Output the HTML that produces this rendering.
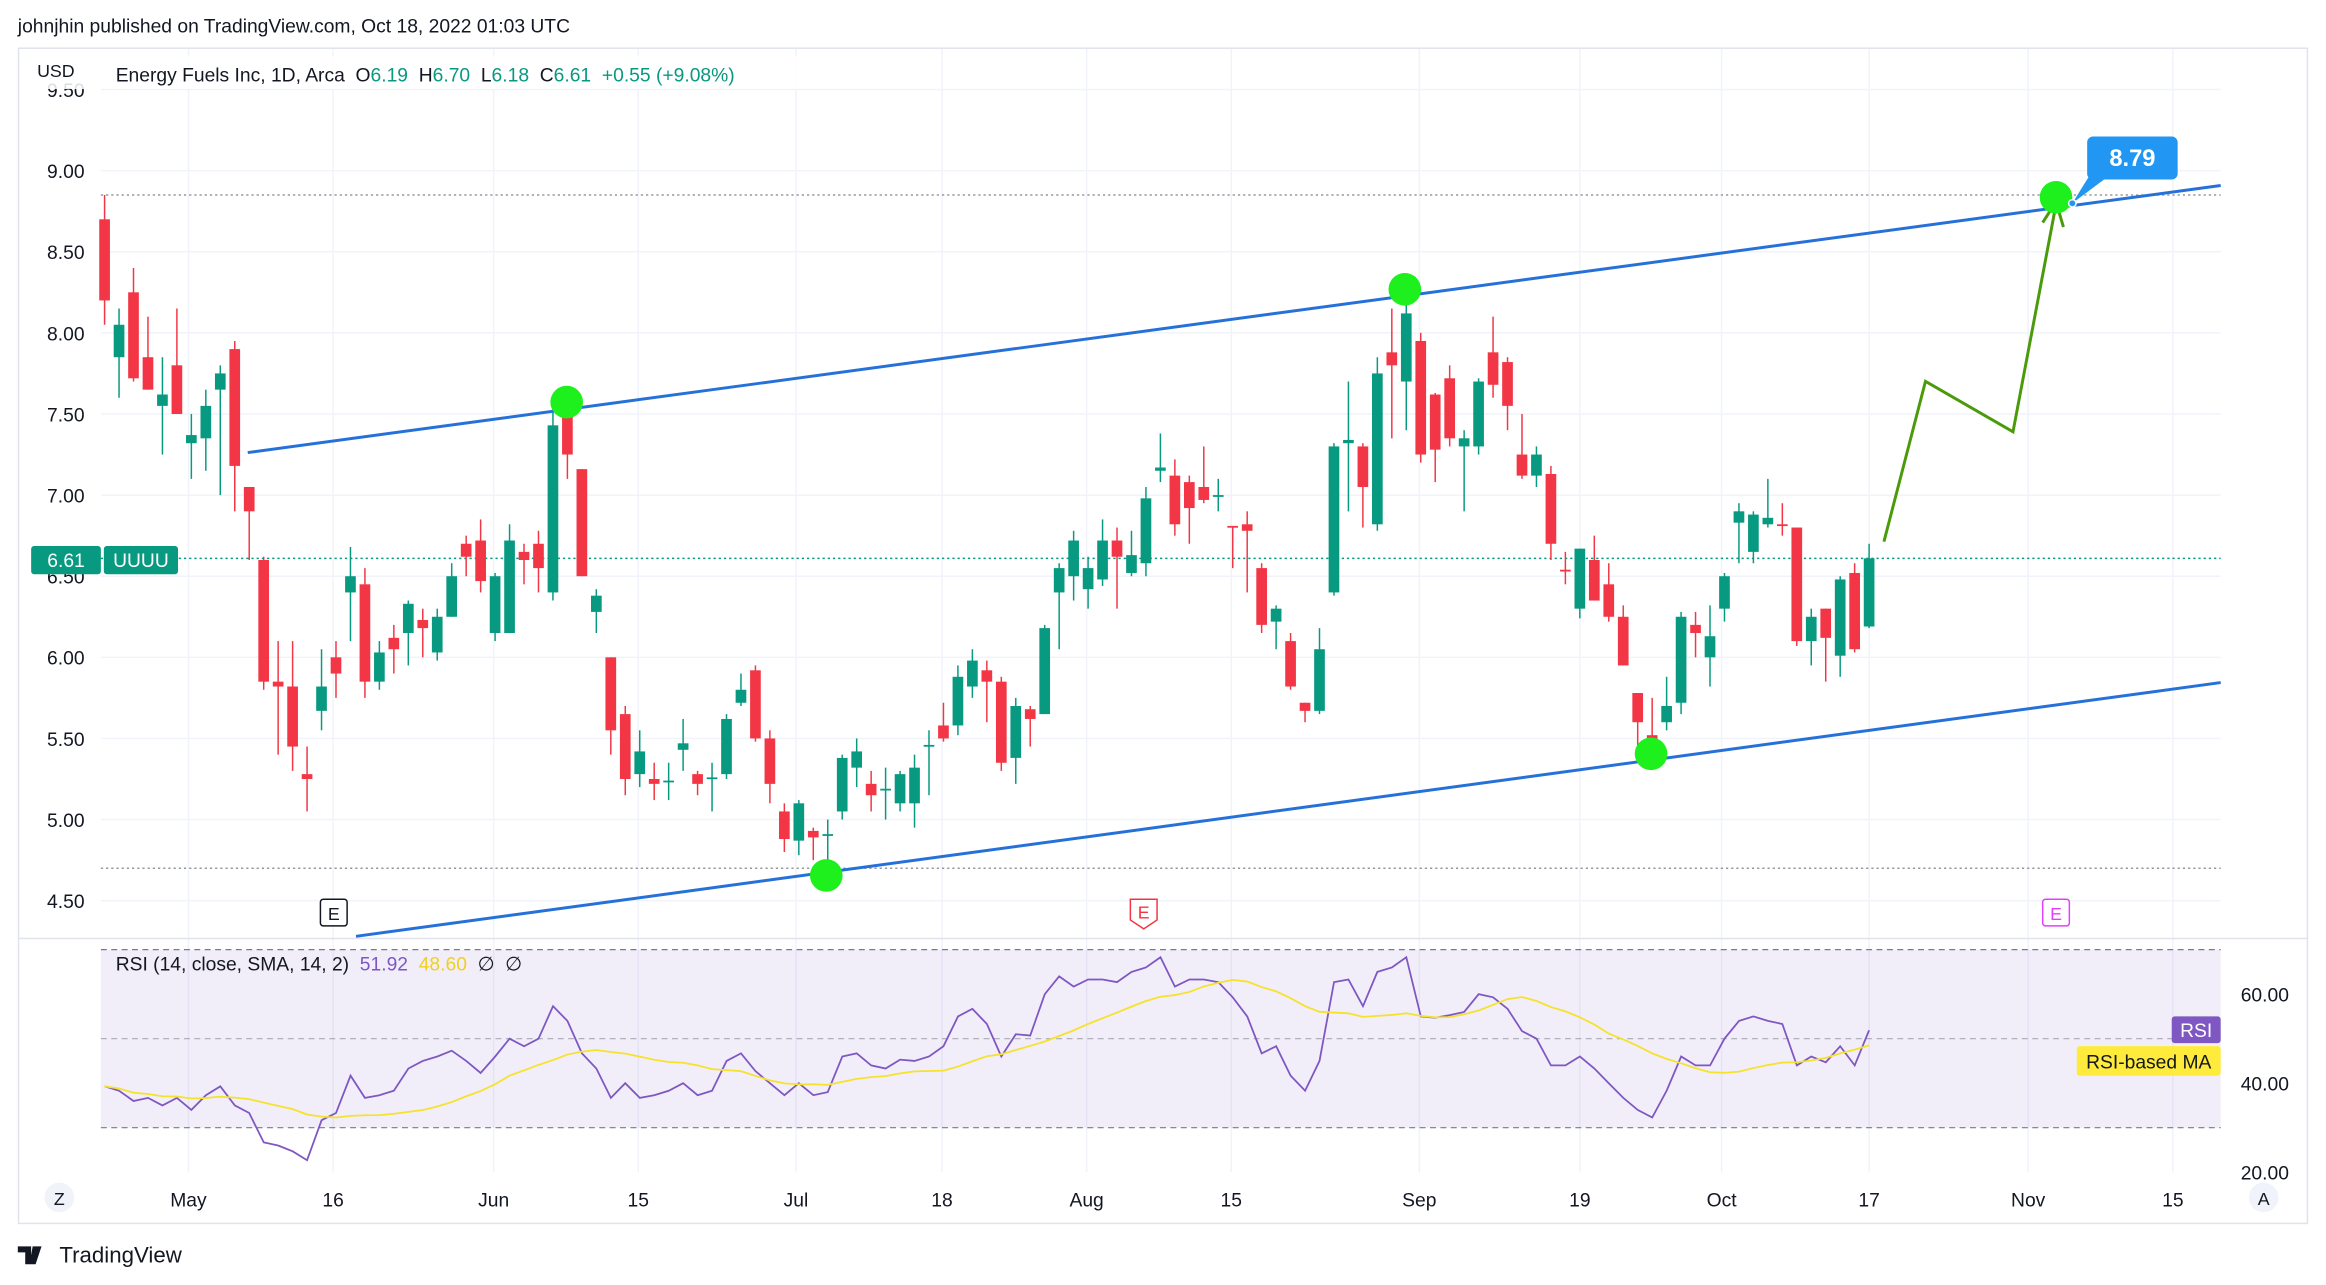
<!DOCTYPE html>
<html><head><meta charset="utf-8">
<style>
html,body{margin:0;padding:0;background:#fff;}
svg{display:block;font-family:"Liberation Sans",sans-serif;}
</style></head>
<body>
<svg id="chart" width="2326" height="1285" viewBox="0 0 1568 866" preserveAspectRatio="none" xmlns="http://www.w3.org/2000/svg">
  <rect x="0" y="0" width="1568" height="866" fill="#fff"/>
  <text x="12" y="22" font-size="13" fill="#131722">johnjhin published on TradingView.com, Oct 18, 2022 01:03 UTC</text>
  <rect x="12.5" y="32.5" width="1543" height="792" fill="none" stroke="#e0e3eb"/>
  <g id="grid"></g>
  <rect x="68" y="640" width="1429" height="120" fill="#7e57c2" fill-opacity="0.1"/>
  <line x1="68" y1="640" x2="1497" y2="640" stroke="#787b86" stroke-dasharray="4,3" stroke-width="0.8"/>
  <line x1="68" y1="700" x2="1497" y2="700" stroke="#787b86" stroke-dasharray="4,3" stroke-width="0.8" stroke-opacity="0.6"/>
  <line x1="68" y1="760" x2="1497" y2="760" stroke="#787b86" stroke-dasharray="4,3" stroke-width="0.8"/>
  <line x1="13" y1="632.5" x2="1556" y2="632.5" stroke="#e0e3eb"/>
  <g id="lines"></g>
  <g id="candles"></g>
  <g id="drawings">
    <line x1="167" y1="305" x2="1497" y2="125" stroke="#2671d9" stroke-width="2"/>
    <line x1="240" y1="631" x2="1497" y2="460" stroke="#2671d9" stroke-width="2"/>
    <polyline points="1270,365 1298,257 1357,291 1385,143" fill="none" stroke="#4a9a0a" stroke-width="2"/>
    <polyline points="1377,150 1386,136 1391,153" fill="none" stroke="#4a9a0a" stroke-width="2"/>
    <circle cx="382" cy="271" r="11" fill="#1df01d"/>
    <circle cx="947" cy="195" r="11" fill="#1df01d"/>
    <circle cx="557" cy="590" r="11" fill="#1df01d"/>
    <circle cx="1113" cy="508" r="11" fill="#1df01d"/>
    <circle cx="1386" cy="133" r="11" fill="#1df01d"/>
    <polygon points="1410,116 1425,116 1397,137" fill="#2196f3"/>
    <circle cx="1397" cy="137" r="2.5" fill="#2196f3" stroke="#fff"/>
    <rect x="1407" y="92" width="61" height="29" rx="4" fill="#2196f3"/>
    <text x="1437.5" y="112" font-size="16" font-weight="bold" fill="#fff" text-anchor="middle">8.79</text>
  </g>
  <g id="yaxis"></g>
  <g>
    <rect x="21" y="368" width="47" height="19" rx="2" fill="#089981"/>
    <text x="44.5" y="382" font-size="13" fill="#fff" text-anchor="middle">6.61</text>
    <rect x="70" y="368" width="50" height="19" rx="2" fill="#089981"/>
    <text x="95" y="382" font-size="13" fill="#fff" text-anchor="middle">UUUU</text>
  </g>
  <rect x="18" y="38" width="520" height="22" fill="#fff" fill-opacity="0.85"/>
  <text x="25" y="52" font-size="12" fill="#131722">USD</text>
  <text x="78" y="55" font-size="13" fill="#131722" xml:space="preserve">Energy Fuels Inc, 1D, Arca  O<tspan fill="#089981">6.19</tspan>  H<tspan fill="#089981">6.70</tspan>  L<tspan fill="#089981">6.18</tspan>  C<tspan fill="#089981">6.61</tspan>  <tspan fill="#089981">+0.55 (+9.08%)</tspan></text>
  <text x="78" y="654" font-size="13" fill="#131722" xml:space="preserve">RSI (14, close, SMA, 14, 2)  <tspan fill="#7e57c2">51.92</tspan>  <tspan fill="#f0d020">48.60</tspan>  ∅  ∅</text>
  <g>
    <rect x="216" y="606" width="18" height="18" rx="2" fill="#fff" stroke="#131722"/>
    <text x="225" y="620" font-size="12" fill="#131722" text-anchor="middle">E</text>
  </g>
  <g>
    <path d="M762,606 H780 V620 L771,626 L762,620 Z" fill="#fff" stroke="#f23645"/>
    <text x="771" y="619" font-size="12" fill="#f23645" text-anchor="middle">E</text>
  </g>
  <g>
    <rect x="1377" y="606" width="18" height="18" rx="2" fill="#fff" stroke="#e040fb"/>
    <text x="1386" y="620" font-size="12" fill="#e040fb" text-anchor="middle">E</text>
  </g>
  <g>
    <text x="1543" y="675" font-size="13" fill="#131722" text-anchor="end">60.00</text>
    <text x="1543" y="735" font-size="13" fill="#131722" text-anchor="end">40.00</text>
    <text x="1543" y="795" font-size="13" fill="#131722" text-anchor="end">20.00</text>
  </g>
  <g>
    <rect x="1464" y="685" width="33" height="18" rx="2" fill="#7e57c2"/>
    <text x="1480.5" y="699" font-size="13" fill="#fff" text-anchor="middle">RSI</text>
  </g>
  <g>
    <rect x="1400" y="705" width="97" height="20" rx="2" fill="#ffeb3b"/>
    <text x="1448.5" y="720" font-size="13" fill="#131722" text-anchor="middle">RSI-based MA</text>
  </g>
  <g id="xaxis"></g>
  <g>
    <circle cx="40" cy="807" r="10" fill="#f0f3fa"/>
    <text x="40" y="812" font-size="12" fill="#131722" text-anchor="middle">Z</text>
  </g>
  <g>
    <circle cx="1526" cy="807" r="10" fill="#f0f3fa"/>
    <text x="1526" y="812" font-size="12" fill="#131722" text-anchor="middle">A</text>
  </g>
  <g>
    <path d="M12,840 H21 V852 H17 V844 H12 Z M22,840 H28 L24,852 H20 Z" fill="#131722"/>
    <circle cx="25" cy="842" r="0" fill="#131722"/>
    <text x="40" y="851" font-size="15" fill="#131722">TradingView</text>
  </g>
</svg>
<script>
const opens  = [8.70,7.85,8.25,7.85,7.55,7.80,7.32,7.35,7.65,7.90,7.05,6.60,5.85,5.82,5.28,5.67,6.00,6.40,6.45,5.85,6.12,6.15,6.23,6.03,6.25,6.70,6.72,6.15,6.15,6.65,6.70,6.40,7.57,7.16,6.28,6.00,5.65,5.28,5.25,5.23,5.43,5.28,5.25,5.28,5.72,5.92,5.50,5.05,4.87,4.93,4.90,5.05,5.32,5.22,5.18,5.10,5.10,5.45,5.58,5.58,5.82,5.92,5.85,5.38,5.68,5.65,6.40,6.50,6.42,6.48,6.72,6.52,6.58,7.15,7.12,7.08,7.05,6.99,6.81,6.82,6.55,6.22,6.10,5.72,5.67,6.40,7.32,7.30,6.82,7.88,7.70,7.95,7.62,7.72,7.30,7.30,7.88,7.82,7.25,7.12,7.13,6.54,6.30,6.60,6.45,6.25,5.78,5.52,5.60,5.72,6.20,6.00,6.30,6.83,6.65,6.82,6.82,6.80,6.10,6.30,6.01,6.52,6.19];
const highs  = [8.85,8.15,8.40,8.10,7.85,8.15,7.50,7.65,7.80,7.95,7.05,6.62,6.10,6.10,5.45,6.05,6.10,6.68,6.55,6.10,6.20,6.35,6.30,6.30,6.58,6.75,6.85,6.52,6.82,6.70,6.78,7.55,7.60,7.16,6.42,6.00,5.70,5.55,5.35,5.35,5.62,5.30,5.35,5.65,5.90,5.95,5.55,5.10,5.12,4.95,5.00,5.40,5.50,5.30,5.32,5.30,5.40,5.55,5.72,5.95,6.05,5.98,5.88,5.75,5.70,6.20,6.58,6.78,6.62,6.85,6.80,6.78,7.05,7.38,7.22,7.12,7.30,7.10,6.81,6.90,6.58,6.32,6.15,5.72,6.18,7.32,7.70,7.32,7.85,8.15,8.25,8.00,7.63,7.80,7.40,7.72,8.10,7.85,7.50,7.30,7.18,6.65,6.67,6.75,6.58,6.32,5.78,5.75,5.88,6.28,6.28,6.32,6.52,6.95,6.90,7.10,6.95,6.80,6.30,6.30,6.50,6.58,6.70];
const lows   = [8.05,7.60,7.70,7.65,7.25,7.50,7.10,7.15,7.00,6.90,6.60,5.80,5.40,5.30,5.05,5.55,5.75,6.10,5.75,5.80,5.90,5.95,6.00,5.98,6.25,6.50,6.40,6.10,6.15,6.45,6.40,6.35,7.10,6.50,6.15,5.40,5.15,5.20,5.12,5.12,5.30,5.15,5.05,5.25,5.70,5.48,5.10,4.80,4.78,4.75,4.72,5.00,5.20,5.05,5.00,5.05,4.95,5.15,5.48,5.52,5.75,5.60,5.30,5.22,5.45,5.65,6.05,6.35,6.30,6.44,6.30,6.50,6.50,7.08,6.75,6.70,6.95,6.90,6.55,6.40,6.15,6.05,5.80,5.60,5.65,6.38,6.90,6.80,6.78,7.35,7.40,7.20,7.08,7.30,6.90,7.25,7.60,7.40,7.10,7.05,6.60,6.45,6.24,6.35,6.22,5.95,5.45,5.38,5.55,5.65,6.00,5.82,6.22,6.58,6.58,6.80,6.75,6.07,5.95,5.85,5.88,6.03,6.18];
const closes = [8.20,8.05,7.72,7.65,7.62,7.50,7.37,7.55,7.75,7.18,6.90,5.85,5.82,5.45,5.25,5.82,5.90,6.50,5.85,6.03,6.05,6.33,6.18,6.25,6.50,6.62,6.47,6.50,6.72,6.60,6.55,7.43,7.25,6.50,6.38,5.55,5.25,5.42,5.22,5.24,5.47,5.22,5.26,5.62,5.80,5.50,5.22,4.88,5.10,4.89,4.91,5.38,5.42,5.15,5.19,5.28,5.32,5.46,5.50,5.88,5.98,5.85,5.35,5.70,5.62,6.18,6.55,6.72,6.55,6.72,6.62,6.63,6.98,7.17,6.82,6.92,6.97,7.00,6.80,6.78,6.20,6.30,5.82,5.67,6.05,7.30,7.34,7.05,7.75,7.80,8.12,7.25,7.28,7.35,7.35,7.70,7.68,7.55,7.12,7.25,6.70,6.53,6.67,6.35,6.25,5.95,5.60,5.40,5.70,6.25,6.15,6.13,6.50,6.90,6.88,6.86,6.81,6.10,6.25,6.12,6.48,6.05,6.61];
const rsiVals = [39.3,38.3,36,36.7,35,36.7,34,37.3,39.3,35,33.3,26.7,26,24.7,22.7,31.7,33.3,41.7,36.7,37.3,38.3,43.3,45,46,47.3,45,42.3,46,50,48.3,50,57.3,54,46.7,43.3,36.7,40,36.7,37.3,38.3,40,37.3,38.3,45,46.7,42.7,40,37.3,40,37.3,38,46,46.7,44,43.3,45.3,45,46,48.3,55,56.7,53.3,46,51,50.7,60,64,61.7,63.3,63.3,62.7,65,66,68.3,61.7,63.3,63.3,62.7,59.3,55,46.7,48.3,41.7,38.3,45,62.7,63.3,57.3,65,66,68.3,55,54.7,55.3,56,60,59.3,56.7,51.7,50,44,44,46,43.3,40,36.7,34,32.3,38.3,46,44,44,50,54,55,54,53.3,44,46,44.7,48.3,44,51.9];
const priceTicks = ["4.50","5.00","5.50","6.00","6.50","7.00","7.50","8.00","8.50","9.00","9.50"];
const timeLabels = ["May","16","Jun","15","Jul","18","Aug","15","Sep","19","Oct","17","Nov","15"];
const timeLabelBars = [5.8,15.8,26.9,36.9,47.8,57.9,67.9,77.9,90.9,102,111.8,122,133,143];
const highRef = 8.85, lowRef = 4.70, lastPrice = 6.61;

const NS = "http://www.w3.org/2000/svg";
const N = closes.length;
const barStep = 9.75;
const lastX = 1260;
function xBar(i){ return lastX - (N-1-i)*barStep; }
function yPrice(p){ return 115 + (9 - p) * 109.33; }
function yRsi(r){ return 670 + (60 - r) * 3; }
function mk(tag, attrs, parent){
  const e = document.createElementNS(NS, tag);
  for (const k in attrs) e.setAttribute(k, attrs[k]);
  parent.appendChild(e);
  return e;
}
const grid = document.getElementById('grid');
const yaxis = document.getElementById('yaxis');
priceTicks.forEach(t => {
  const y = yPrice(parseFloat(t));
  const gl = mk('line', {x1:68, y1:y, x2:1497, y2:y, stroke:'#f0f3fa', 'stroke-width':1}, grid);
  
  
  const tx = mk('text', {x:57, y:y+5, 'font-size':13, fill:'#131722', 'text-anchor':'end'}, yaxis);
  
  
  tx.textContent = t;
});
const xaxis = document.getElementById('xaxis');
timeLabels.forEach((t, k) => {
  const x = xBar(timeLabelBars[k]);
  const gl = mk('line', {x1:x, y1:33, x2:x, y2:790, stroke:'#f0f3fa', 'stroke-width':1}, grid);
  
  
  const tx = mk('text', {x:x, y:813, 'font-size':13, fill:'#131722', 'text-anchor':'middle'}, xaxis);
  
  
  tx.textContent = t;
});
const lines = document.getElementById('lines');
[[highRef,'#9598a1'],[lowRef,'#9598a1'],[lastPrice,'#089981']].forEach(([p,c]) => {
  const l = mk('line', {x1:68, y1:yPrice(p), x2:1497, y2:yPrice(p), stroke:c, 'stroke-dasharray':'1.5,2', 'stroke-width':1}, lines);
  
  
});
const cg = document.getElementById('candles');
for (let i = 0; i < N; i++){
  const up = closes[i] >= opens[i];
  const col = up ? '#089981' : '#f23645';
  const x = xBar(i);
  const g = mk('g', {}, cg);
  
  
  mk('line', {x1:x, y1:yPrice(highs[i]), x2:x, y2:yPrice(lows[i]), stroke:col, 'stroke-width':1}, g);
  const top = yPrice(Math.max(opens[i], closes[i]));
  const h = Math.max(1.2, Math.abs(yPrice(opens[i]) - yPrice(closes[i])));
  mk('rect', {x:x-3.6, y:top, width:7.2, height:h, fill:col}, g);
}
const rsiPts = rsiVals.map((r,i) => xBar(i).toFixed(1) + ',' + yRsi(r).toFixed(1)).join(' ');
const rl = mk('polyline', {points:rsiPts, fill:'none', stroke:'#7e57c2', 'stroke-width':1.2}, lines);


const maVals = rsiVals.map((r,i) => {
  const s = Math.max(0, i-13); let sum = 0;
  for (let j = s; j <= i; j++) sum += rsiVals[j];
  return sum / (i - s + 1);
});
const maPts = maVals.map((r,i) => xBar(i).toFixed(1) + ',' + yRsi(r).toFixed(1)).join(' ');
const ml = mk('polyline', {points:maPts, fill:'none', stroke:'#f5e22c', 'stroke-width':1.2}, lines);


</script>
</body></html>
